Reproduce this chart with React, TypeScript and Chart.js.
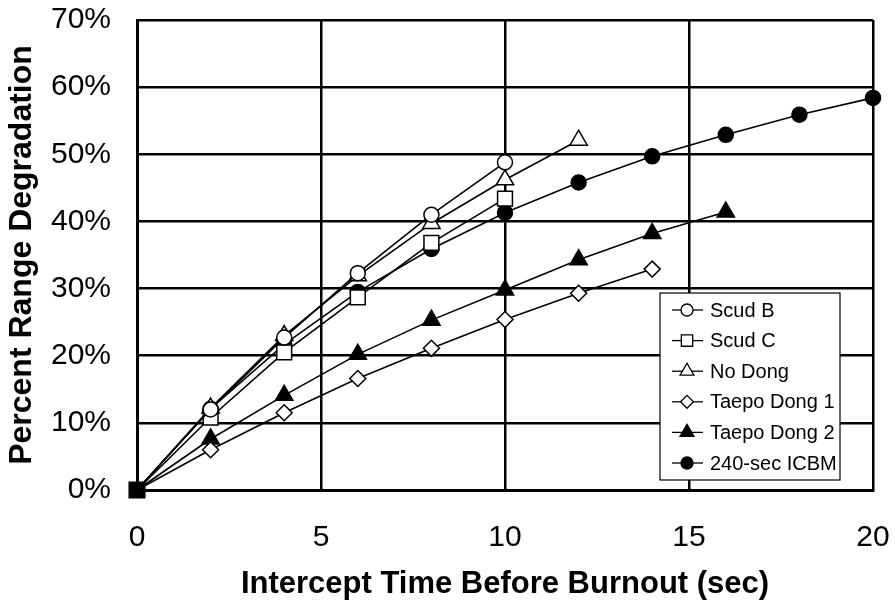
import React, { useEffect, useRef } from "react";
import { Chart, registerables } from "chart.js";
import { drawPoint } from "chart.js/helpers";

Chart.register(...registerables);

const times = [0, 2, 4, 6, 8, 10, 12, 14, 16, 18, 20];
const scudB = [0, 12.0, 22.7, 32.3, 41.0, 48.8];
const scudC = [0, 10.8, 20.5, 28.7, 36.8, 43.4];
const noDong = [0, 12.2, 23.0, 31.9, 39.7, 46.2, 52.1];
const taepoDong1 = [0, 6.0, 11.5, 16.6, 21.1, 25.4, 29.3, 32.9];
const taepoDong2 = [0, 7.6, 14.1, 20.2, 25.3, 29.8, 34.3, 38.2, 41.4];
const icbm240 = [0, 12.1, 21.7, 29.5, 35.9, 41.3, 45.8, 49.7, 52.9, 55.9, 58.4];

const xTicks = [0, 5, 10, 15, 20];
const yTicks = [0, 10, 20, 30, 40, 50, 60, 70];

const FONT = "'Liberation Sans', Arial, Helvetica, sans-serif";

type SeriesDef = {
  label: string;
  values: number[];
  style: string;
  fill: string;
  radius: number;
  legendRadius: number;
};

const series: SeriesDef[] = [
  { label: "Scud B", values: scudB, style: "circle", fill: "#fff", radius: 7.5, legendRadius: 6 },
  { label: "Scud C", values: scudC, style: "rect", fill: "#fff", radius: 10.5, legendRadius: 8 },
  { label: "No Dong", values: noDong, style: "triangle", fill: "#fff", radius: 10, legendRadius: 8 },
  { label: "Taepo Dong 1", values: taepoDong1, style: "rectRot", fill: "#fff", radius: 8, legendRadius: 6.5 },
  { label: "Taepo Dong 2", values: taepoDong2, style: "triangle", fill: "#000", radius: 10, legendRadius: 8 },
  { label: "240-sec ICBM", values: icbm240, style: "circle", fill: "#000", radius: 7.5, legendRadius: 6 },
];

const legendPlugin = {
  id: "boxLegend",
  afterDraw(chart: any) {
    const { ctx, chartArea } = chart;
    const w = 180;
    const h = 187;
    const left = chartArea.right - 213;
    const top = chartArea.bottom - 197;
    ctx.save();
    ctx.fillStyle = "#fff";
    ctx.fillRect(left, top, w, h);
    ctx.strokeStyle = "#000";
    ctx.lineWidth = 1.2;
    ctx.strokeRect(left, top, w, h);
    const rowH = 30.6;
    series.forEach((s, i) => {
      const y = top + 17 + i * rowH;
      ctx.beginPath();
      ctx.strokeStyle = "#000";
      ctx.lineWidth = 1.3;
      ctx.moveTo(left + 12, y);
      ctx.lineTo(left + 43, y);
      ctx.stroke();
      ctx.fillStyle = s.fill;
      ctx.strokeStyle = "#000";
      ctx.lineWidth = 1.3;
      drawPoint(ctx, { pointStyle: s.style, radius: s.legendRadius, rotation: 0, borderWidth: 1.3 } as any, left + 27, y);
      ctx.fillStyle = "#000";
      ctx.font = `20px ${FONT}`;
      ctx.textBaseline = "middle";
      ctx.textAlign = "left";
      ctx.fillText(s.label, left + 50, y + 1);
    });
    ctx.restore();
  },
};

export default function App() {
  const canvasRef = useRef<HTMLCanvasElement | null>(null);

  useEffect(() => {
    document.body.style.margin = "0";
    const canvas = canvasRef.current;
    if (!canvas) return;

    const datasets = series.map((s, si) => ({
      label: s.label,
      data: s.values.map((v, i) => ({ x: times[i], y: v })),
      borderColor: "#000",
      borderWidth: 1.6,
      tension: 0,
      fill: false,
      clip: false as any,
      pointStyle: (ctx: any) => (ctx.dataIndex === 0 && si === 0 ? "rect" : s.style),
      pointRadius: (ctx: any) => (ctx.dataIndex === 0 ? (si === 0 ? 11 : 0) : s.radius),
      pointHoverRadius: (ctx: any) => (ctx.dataIndex === 0 ? (si === 0 ? 11 : 0) : s.radius),
      pointBackgroundColor: (ctx: any) => (ctx.dataIndex === 0 ? "#000" : s.fill),
      pointBorderColor: "#000",
      pointBorderWidth: 1.5,
    }));

    const chart = new Chart(canvas, {
      type: "line",
      data: { datasets },
      options: {
        animation: false,
        responsive: true,
        maintainAspectRatio: false,
        layout: { padding: { top: 20, right: 22, left: 0, bottom: 0 } },
        plugins: {
          legend: { display: false },
          tooltip: { enabled: false },
        },
        scales: {
          x: {
            type: "linear",
            min: xTicks[0],
            max: xTicks[xTicks.length - 1],
            afterBuildTicks: (scale: any) => {
              scale.ticks = xTicks.map((v) => ({ value: v }));
            },
            ticks: {
              color: "#000",
              font: { family: FONT, size: 30 },
              padding: 30,
              maxRotation: 0,
            },
            grid: { color: "#000", lineWidth: 2.5, drawTicks: false },
            border: { color: "#000", width: 3 },
            title: {
              display: true,
              text: "Intercept Time Before Burnout (sec)",
              color: "#000",
              font: { family: FONT, size: 31, weight: "bold" },
              padding: { top: 0, bottom: 1 },
            },
            afterFit: (scale: any) => {
              scale.height = 114;
              scale.paddingLeft = 0;
              scale.paddingRight = 0;
            },
          },
          y: {
            type: "linear",
            min: yTicks[0],
            max: yTicks[yTicks.length - 1],
            afterBuildTicks: (scale: any) => {
              scale.ticks = yTicks.map((v) => ({ value: v }));
            },
            ticks: {
              color: "#000",
              font: { family: FONT, size: 30 },
              padding: 26,
              callback: (v: any) => `${v}%`,
            },
            grid: { color: "#000", lineWidth: 2.5, drawTicks: false },
            border: { color: "#000", width: 3 },
            title: {
              display: true,
              text: "Percent Range Degradation",
              color: "#000",
              font: { family: FONT, size: 32, weight: "bold" },
              padding: { top: 3, bottom: 0 },
            },
            afterFit: (scale: any) => {
              scale.width = 137;
              scale.paddingTop = 0;
              scale.paddingBottom = 0;
            },
          },
        },
      },
      plugins: [legendPlugin],
    });

    return () => {
      chart.destroy();
    };
  }, []);

  return (
    <div style={{ position: "absolute", left: 0, top: 0, width: 895, height: 604, background: "#fff" }}>
      <canvas ref={canvasRef} />
    </div>
  );
}
